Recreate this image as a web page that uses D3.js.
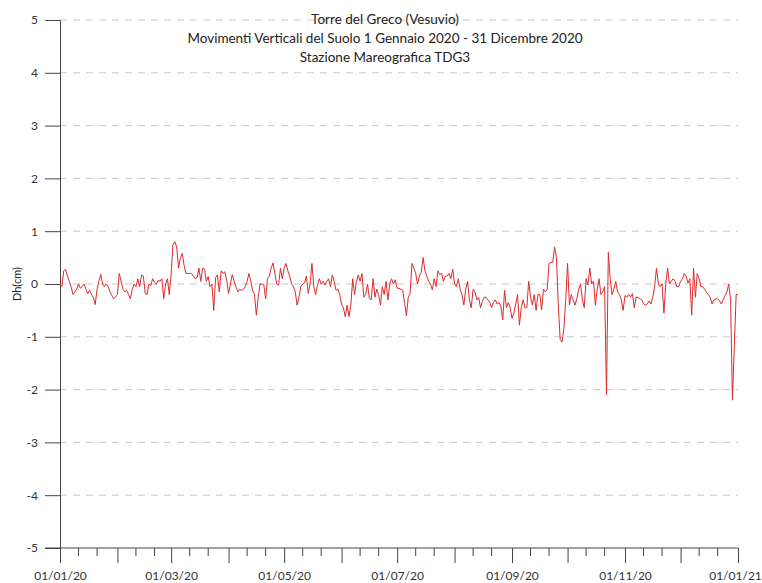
<!DOCTYPE html>
<html><head><meta charset="utf-8">
<script src="https://cdn.jsdelivr.net/npm/d3@7"></script>
<style>body{margin:0;background:#fff}svg{display:block}text{font-family:Lato,"Open Sans",sans-serif}</style>
</head><body><svg id="c" width="762" height="583"></svg>
<script>
const titleLines = ["Torre del Greco (Vesuvio)", "Movimenti Verticali del Suolo 1 Gennaio 2020 - 31 Dicembre 2020", "Stazione Mareografica TDG3"];
const yLabel = "Dh(cm)";
const startDate = "2020-01-01";
const endDate = "2021-01-01";
const yTicks = [5,4,3,2,1,0,-1,-2,-3,-4,-5];
// daily values (cm) starting 01/01/2020
const values = [
0.0,-0.05,0.25,0.28,0.15,0.05,-0.05,-0.2,-0.15,-0.1,
0.0,-0.08,-0.05,0.0,-0.1,-0.18,-0.12,-0.2,-0.25,-0.39,
-0.1,0.05,0.18,0.0,-0.05,0.0,-0.05,-0.15,-0.22,-0.28,
-0.25,-0.2,0.2,0.05,-0.1,-0.15,-0.12,-0.2,-0.28,-0.1,
0.0,-0.05,0.1,-0.05,0.17,0.15,-0.18,-0.2,0.0,-0.03,
0.1,0.03,0.0,0.07,0.05,0.1,-0.28,0.0,0.1,-0.2,
0.2,0.75,0.8,0.7,0.3,0.5,0.58,0.35,0.2,0.2,
0.2,0.2,0.15,0.1,0.12,0.3,0.05,0.3,0.28,0.05,
0.14,-0.05,0.0,-0.5,0.12,0.17,-0.15,0.25,0.2,0.23,
0.07,-0.18,0.0,0.18,0.05,-0.05,-0.15,-0.1,-0.12,-0.1,
-0.05,0.05,0.2,0.05,-0.12,-0.2,-0.59,-0.25,0.0,0.0,
-0.01,-0.28,0.1,0.15,0.3,0.4,0.2,0.0,-0.02,0.3,
0.1,0.3,0.39,0.25,0.15,0.0,-0.05,-0.15,-0.4,-0.25,
-0.05,0.0,0.02,0.15,-0.18,0.0,0.39,-0.05,-0.2,-0.02,
0.1,0.0,0.05,-0.02,0.05,0.1,-0.05,0.17,0.05,-0.12,
-0.1,-0.2,-0.38,-0.45,-0.62,-0.4,-0.62,-0.4,0.1,-0.2,
0.05,0.17,0.05,0.2,-0.25,-0.2,0.0,-0.27,-0.3,0.1,
-0.25,-0.1,-0.2,-0.4,-0.05,-0.2,0.05,-0.3,0.0,0.1,
0.0,0.08,-0.08,-0.08,-0.1,-0.12,-0.35,-0.6,-0.25,-0.18,
0.39,0.3,0.2,0.0,0.15,0.22,0.5,0.25,0.15,0.05,
0.0,-0.11,0.1,-0.05,0.25,0.18,0.2,0.05,0.15,0.15,
0.2,0.1,0.28,0.0,-0.05,0.1,-0.1,-0.2,-0.4,-0.1,
0.05,-0.3,-0.45,-0.1,-0.15,-0.3,-0.25,-0.45,-0.33,-0.25,
-0.25,-0.3,-0.35,-0.45,-0.35,-0.3,-0.38,-0.35,-0.42,-0.68,
-0.12,-0.45,-0.35,-0.45,-0.65,-0.55,-0.38,-0.2,-0.78,-0.45,
-0.3,-0.45,-0.45,0.05,-0.25,-0.4,-0.2,-0.5,-0.2,-0.2,
-0.49,-0.1,-0.15,-0.1,0.39,0.41,0.41,0.7,0.5,-0.4,
-1.05,-1.1,-0.85,-0.3,0.39,-0.4,-0.2,-0.3,-0.4,-0.28,
-0.1,0.0,-0.3,-0.45,0.1,-0.02,0.3,0.0,0.05,-0.4,
-0.1,0.1,-0.2,-0.15,-0.05,-2.1,0.6,0.1,-0.2,-0.1,
0.05,-0.15,-0.2,-0.3,-0.5,-0.22,-0.25,-0.2,-0.25,-0.18,
-0.45,-0.25,-0.25,-0.28,-0.3,-0.37,-0.4,-0.38,-0.32,-0.38,
-0.25,-0.05,0.3,0.0,-0.05,0.0,-0.55,0.0,0.3,0.0,
0.05,0.1,0.05,-0.05,-0.05,0.05,0.1,0.2,0.15,0.02,
0.1,-0.59,0.3,-0.25,0.2,0.1,-0.05,-0.05,-0.1,-0.16,
-0.2,-0.25,-0.38,-0.3,-0.28,-0.28,-0.32,-0.38,-0.3,-0.22,
-0.15,0.0,-0.3,-2.2,-1.2,-0.2,-0.2
];

const svg = d3.select("#c");
const parse = d3.timeParse("%Y-%m-%d");
const t0 = parse(startDate), t1 = parse(endDate);
const data = values.map((v,i)=>({date:d3.timeDay.offset(t0,i), v}));

const x = d3.scaleTime().domain([t0,t1]).range([60,738]);
const y = d3.scaleLinear().domain([-5,5]).range([548,20]);

// gridlines
svg.append("g").selectAll("line").data(yTicks.filter(d=>d!==-5)).join("line")
  .attr("x1",60).attr("x2",738).attr("y1",d=>y(d)).attr("y2",d=>y(d))
  .attr("stroke","#c8c8c8").attr("stroke-width",1).attr("stroke-dasharray","7,6");

// y axis
const yAxis = d3.axisLeft(y).tickValues(yTicks).tickSize(15).tickPadding(7).tickFormat(d=>String(d));
const gy = svg.append("g").attr("transform","translate(60,0)").call(yAxis);
gy.select(".domain").attr("stroke","#444");
gy.selectAll(".tick line").attr("stroke","#444");
gy.selectAll("text").attr("font-size",12).attr("fill","#333");

// x axis: month ticks (long, labelled every two months), minor ticks on 11th and 21st
const months = d3.timeMonth.range(t0, d3.timeDay.offset(t1,1));
const xAxis = d3.axisBottom(x).tickValues(months).tickSize(15).tickPadding(8)
  .tickFormat((d,i)=> d.getMonth()%2===0 ? d3.timeFormat("%d/%m/%y")(d) : "");
const gx = svg.append("g").attr("transform","translate(0,548)").call(xAxis);
gx.select(".domain").remove();
gx.selectAll(".tick line").attr("stroke","#444");
gx.selectAll("text").attr("font-size",12).attr("fill","#333")
  .attr("dx",d=>+d===+t1 ? "-3" : "0");
svg.append("line").attr("x1",45).attr("x2",738).attr("y1",548).attr("y2",548).attr("stroke","#444");

const minor = d3.timeDay.range(t0,t1).filter(d=>d.getDate()===11||d.getDate()===21);
svg.append("g").selectAll("line").data(minor).join("line")
  .attr("x1",d=>x(d)).attr("x2",d=>x(d)).attr("y1",548).attr("y2",556).attr("stroke","#444");

// line
svg.append("path").datum(data)
  .attr("d", d3.line().x(d=>x(d.date)).y(d=>y(d.v)))
  .attr("fill","none").attr("stroke","#dd2b2b").attr("stroke-width",1);

// titles
svg.append("g").selectAll("text").data(titleLines).join("text")
  .attr("x",385).attr("y",(d,i)=>24+i*19).attr("text-anchor","middle")
  .attr("font-size",13.5).attr("fill","#222").text(d=>d);

svg.append("text").attr("transform","translate(21,284) rotate(-90)")
  .attr("text-anchor","middle").attr("font-size",11).attr("fill","#222").text(yLabel);
</script></body></html>
